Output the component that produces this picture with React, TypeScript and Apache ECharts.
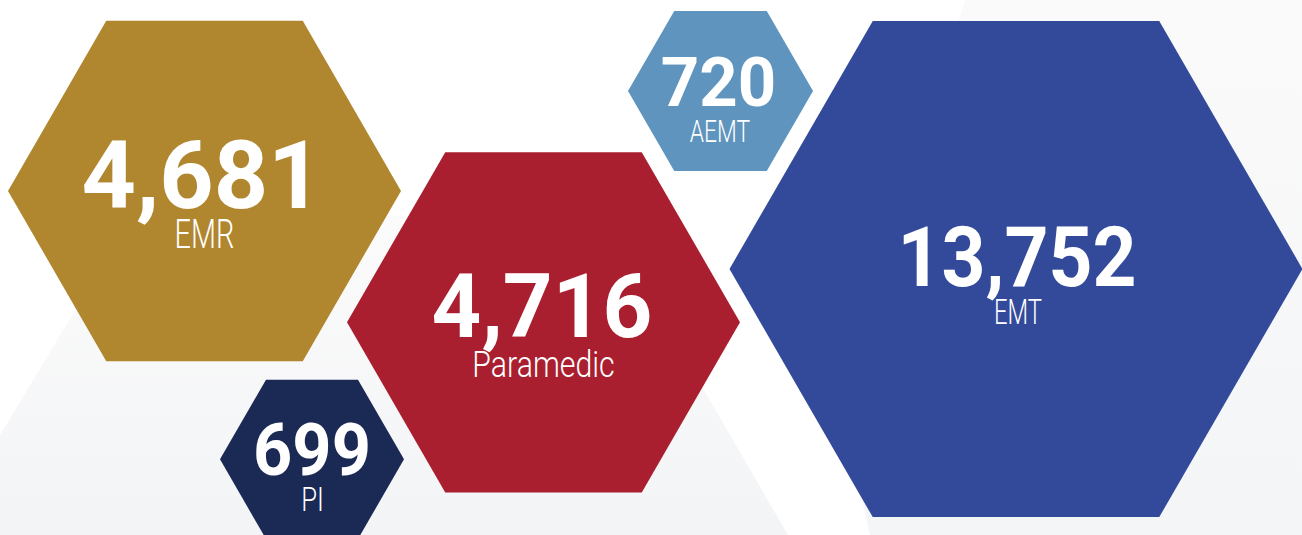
import React, { useEffect, useRef } from "react";
import * as echarts from "echarts";

// ---- data ----
const categories = ["EMR", "Paramedic", "PI", "AEMT", "EMT"];
const counts = [4681, 4716, 699, 720, 13752];

// ---- layout (pixel space of the 1302x535 canvas) ----
const centersX = [204.5, 543.5, 312, 720.5, 1016];
const centersY = [191, 322.3, 459.3, 91, 269];
const radii = [196.5, 196.5, 92, 92.5, 286.5];
const colors = ["#B0862F", "#A91F2F", "#1B2955", "#5E94BD", "#334A9B"];
// ink-box targets for texts
const numCapH = [67, 63, 51, 49, 59];
const numW = [222, 216, 112, 111, 231];
const numCY = [169.4, 301.5, 446.2, 78, 253];
const numCX = [202, 542, 312, 718.4, 1017];
const labCapH = [29, 26, 23, 22, 25];
const labW = [57, 139, 19, 60, 46];
const labCY = [231.5, 362.5, 498, 129.5, 309];
const labCX = [204.4, 543.5, 312.5, 720, 1018];

const W = 1302;
const H = 535;
const NUM_FONT = "Roboto";
const LAB_FONT = "Roboto";

function inkWidth(text: string, font: string): number {
  const c = document.createElement("canvas");
  const ctx = c.getContext("2d")!;
  ctx.font = font;
  const m = ctx.measureText(text);
  const w = (m.actualBoundingBoxLeft || 0) + (m.actualBoundingBoxRight || 0);
  return w > 0 ? w : m.width;
}

export default function App() {
  const ref = useRef<HTMLDivElement>(null);
  useEffect(() => {
    document.body.style.margin = "0";
    const chart = echarts.init(ref.current!, undefined, { renderer: "svg" });

    const data = categories.map((name, i) => [centersX[i], centersY[i], radii[i], counts[i], i]);

    const option = {
      animation: false,
      backgroundColor: "#ffffff",
      grid: { left: 0, right: 0, top: 0, bottom: 0 },
      xAxis: { type: "value", min: 0, max: W, show: false },
      yAxis: { type: "value", min: 0, max: H, inverse: true, show: false },
      graphic: [
        {
          type: "polygon",
          z: 0,
          silent: true,
          shape: { points: [[132, 216], [603, 216], [788, 535], [-60, 535]] },
          style: {
            fill: new echarts.graphic.LinearGradient(0, 0, 0, 1, [
              { offset: 0, color: "#fbfbfb" },
              { offset: 1, color: "#f3f4f6" },
            ]),
          },
        },
        {
          type: "polygon",
          z: 0,
          silent: true,
          shape: { points: [[965, 0], [1302, 0], [1302, 535], [870, 535], [840, 400]] },
          style: {
            fill: new echarts.graphic.LinearGradient(0, 0, 0, 1, [
              { offset: 0, color: "#fafafa" },
              { offset: 1, color: "#f4f5f7" },
            ]),
          },
        },
      ],
      series: [
        {
          type: "custom",
          coordinateSystem: "cartesian2d",
          z: 10,
          silent: true,
          data,
          renderItem: (params: any, api: any) => {
            const i = api.value(4);
            const c = api.coord([api.value(0), api.value(1)]);
            const r = api.size([api.value(2), 0])[0];
            const h = (r * Math.sqrt(3)) / 2;
            const pts = [
              [c[0] - r, c[1]],
              [c[0] - r / 2, c[1] - h],
              [c[0] + r / 2, c[1] - h],
              [c[0] + r, c[1]],
              [c[0] + r / 2, c[1] + h],
              [c[0] - r / 2, c[1] + h],
            ];
            const numText = Number(api.value(3)).toLocaleString("en-US");
            const nfs = numCapH[i] / 0.711;
            const nFont = `700 ${nfs}px ${NUM_FONT}`;
            const nScale = numW[i] / inkWidth(numText, nFont);
            const lab = categories[i];
            const lfs = labCapH[i] / 0.711;
            const lFont = `300 ${lfs}px ${LAB_FONT}`;
            const lScale = labW[i] / inkWidth(lab, lFont);
            return {
              type: "group",
              children: [
                {
                  type: "polygon",
                  shape: { points: pts },
                  style: { fill: colors[i] },
                },
                {
                  type: "text",
                  x: numCX[i],
                  y: numCY[i] + 0.063 * nfs,
                  scaleX: nScale,
                  style: {
                    text: numText,
                    fill: "#ffffff",
                    fontFamily: NUM_FONT,
                    fontWeight: 700,
                    fontSize: nfs,
                    align: "center",
                    verticalAlign: "middle",
                  },
                },
                {
                  type: "text",
                  x: labCX[i],
                  y: labCY[i] + 0.063 * lfs,
                  scaleX: lScale,
                  style: {
                    text: lab,
                    fill: "#ffffff",
                    fontFamily: LAB_FONT,
                    fontWeight: 300,
                    fontSize: lfs,
                    align: "center",
                    verticalAlign: "middle",
                  },
                },
              ],
            };
          },
        },
      ],
    };
    chart.setOption(option as any);
    return () => chart.dispose();
  }, []);
  return <div ref={ref} style={{ width: W, height: H }} />;
}
